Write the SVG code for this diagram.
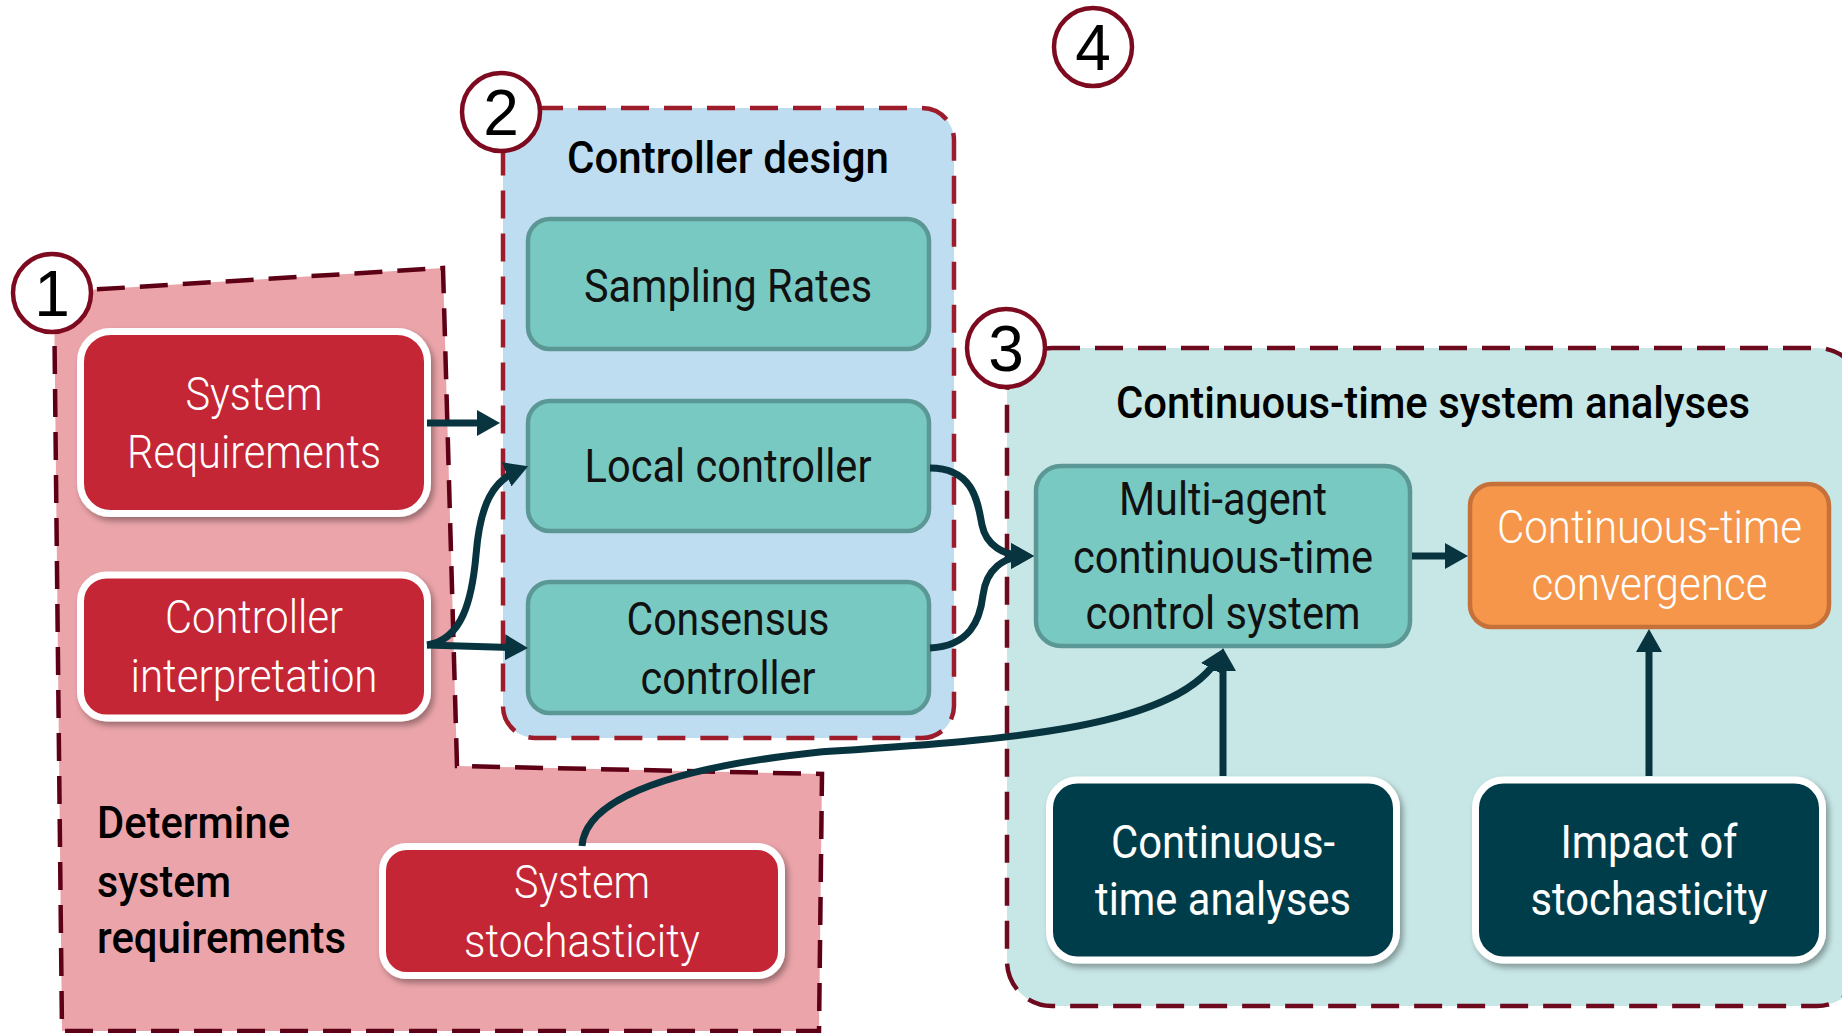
<svg xmlns="http://www.w3.org/2000/svg" width="1842" height="1033" viewBox="0 0 1842 1033">
<defs>
<style>
.txt{font-family:Roboto,"Liberation Sans",sans-serif;font-size:46px;text-anchor:middle}
.dark{fill:#111}
.white{fill:#fff}
.light{font-weight:300}
.title{font-family:Roboto,"Liberation Sans",sans-serif;font-size:45px;font-weight:500;fill:#000}
.num{font-family:"Liberation Sans",Arial,sans-serif;font-size:64px;text-anchor:middle;fill:#000}
.badge{fill:#fff;stroke:#7d0a1f;stroke-width:4.5}
.red{fill:#c52836;stroke:#fff;stroke-width:7}
.teal{fill:#79c9c3;stroke:#5b9895;stroke-width:4.5}
.orange{fill:#f6964a;stroke:#c6703a;stroke-width:4.5}
.navy{fill:#023c4c;stroke:#fff;stroke-width:7}
.conn{fill:none;stroke:#07343f;stroke-width:7}
.dash{stroke-width:4.5;stroke-dasharray:28 15}
</style>
<filter id="sh" x="-10%" y="-10%" width="125%" height="130%">
<feDropShadow dx="3" dy="4" stdDeviation="3" flood-color="#000" flood-opacity="0.35"/>
</filter>
<marker id="ah" markerUnits="userSpaceOnUse" markerWidth="24" markerHeight="26" refX="16" refY="13" orient="auto">
<path d="M0,0 L23,13 L0,26 z" fill="#07343f"/>
</marker>
</defs>
<rect width="1842" height="1033" fill="#fff"/>

<g id="regions">
<polygon id="region1" points="54,292 443,268 457,766 822,774 819,1031 62,1031" fill="#eba5aa" stroke="#5e0015" class="dash"/>
<rect id="region2" x="503" y="108" width="451" height="630" rx="32" fill="#bfddf0" stroke="#9c1c2b" class="dash"/>
<rect id="region3" x="1007" y="348" width="855" height="658" rx="45" fill="#c7e7e6" stroke="#6e0a1e" class="dash"/>
</g>

<g id="labels">
<text class="title" x="728" y="173" text-anchor="middle" textLength="322" lengthAdjust="spacingAndGlyphs">Controller design</text>
<text class="title" x="1433" y="418" text-anchor="middle" textLength="634" lengthAdjust="spacingAndGlyphs">Continuous-time system analyses</text>
<text class="title" x="97" y="838" textLength="193" lengthAdjust="spacingAndGlyphs">Determine</text>
<text class="title" x="97" y="897" textLength="134" lengthAdjust="spacingAndGlyphs">system</text>
<text class="title" x="97" y="953" textLength="249" lengthAdjust="spacingAndGlyphs">requirements</text>
</g>

<g id="badges">
<g id="badge1"><circle class="badge" cx="52" cy="293" r="39"/><text class="num" x="52" y="316">1</text></g>
<g id="badge2"><circle class="badge" cx="501" cy="112" r="39"/><text class="num" x="501" y="135">2</text></g>
<g id="badge3"><circle class="badge" cx="1006" cy="348" r="39"/><text class="num" x="1006" y="371">3</text></g>
<g id="badge4"><circle class="badge" cx="1093" cy="47" r="39"/><text class="num" x="1093" y="70">4</text></g>
</g>

<g id="node-system-requirements">
<rect class="red" x="80.5" y="331.5" width="347" height="182" rx="30" filter="url(#sh)"/>
<text class="txt white light" x="254" y="410" textLength="137" lengthAdjust="spacingAndGlyphs">System</text>
<text class="txt white light" x="254" y="468" textLength="254" lengthAdjust="spacingAndGlyphs">Requirements</text>
</g>
<g id="node-controller-interpretation">
<rect class="red" x="80.5" y="575" width="347" height="143" rx="26" filter="url(#sh)"/>
<text class="txt white light" x="254" y="633" textLength="178" lengthAdjust="spacingAndGlyphs">Controller</text>
<text class="txt white light" x="254" y="692" textLength="247" lengthAdjust="spacingAndGlyphs">interpretation</text>
</g>
<g id="node-system-stochasticity">
<rect class="red" x="382.5" y="846.5" width="399" height="129" rx="24" filter="url(#sh)"/>
<text class="txt white light" x="582" y="898" textLength="136" lengthAdjust="spacingAndGlyphs">System</text>
<text class="txt white light" x="582" y="957" textLength="236" lengthAdjust="spacingAndGlyphs">stochasticity</text>
</g>

<g id="node-sampling-rates">
<rect class="teal" x="528" y="219" width="401" height="130" rx="22"/>
<text class="txt dark" x="728" y="302" textLength="288" lengthAdjust="spacingAndGlyphs">Sampling Rates</text>
</g>
<g id="node-local-controller">
<rect class="teal" x="528" y="401" width="401" height="130" rx="22"/>
<text class="txt dark" x="728" y="482" textLength="287" lengthAdjust="spacingAndGlyphs">Local controller</text>
</g>
<g id="node-consensus-controller">
<rect class="teal" x="528" y="582" width="401" height="131" rx="22"/>
<text class="txt dark" x="728" y="635" textLength="203" lengthAdjust="spacingAndGlyphs">Consensus</text>
<text class="txt dark" x="728" y="694" textLength="175" lengthAdjust="spacingAndGlyphs">controller</text>
</g>

<g id="node-multi-agent">
<rect class="teal" x="1036" y="466" width="374" height="180" rx="25"/>
<text class="txt dark" x="1223" y="515" textLength="208" lengthAdjust="spacingAndGlyphs">Multi-agent</text>
<text class="txt dark" x="1223" y="573" textLength="300" lengthAdjust="spacingAndGlyphs">continuous-time</text>
<text class="txt dark" x="1223" y="629" textLength="275" lengthAdjust="spacingAndGlyphs">control system</text>
</g>
<g id="node-convergence">
<rect class="orange" x="1470" y="484" width="359" height="143" rx="22"/>
<text class="txt white light" x="1649.5" y="543" textLength="305" lengthAdjust="spacingAndGlyphs">Continuous-time</text>
<text class="txt white light" x="1649.5" y="600" textLength="236" lengthAdjust="spacingAndGlyphs">convergence</text>
</g>
<g id="node-ct-analyses">
<rect class="navy" x="1049.5" y="780" width="347" height="180" rx="28" filter="url(#sh)"/>
<text class="txt white" x="1223" y="858" textLength="224" lengthAdjust="spacingAndGlyphs">Continuous-</text>
<text class="txt white" x="1223" y="915" textLength="256" lengthAdjust="spacingAndGlyphs">time analyses</text>
</g>
<g id="node-impact">
<rect class="navy" x="1475.5" y="780" width="347" height="180" rx="28" filter="url(#sh)"/>
<text class="txt white" x="1649" y="858" textLength="177" lengthAdjust="spacingAndGlyphs">Impact of</text>
<text class="txt white" x="1649" y="915" textLength="237" lengthAdjust="spacingAndGlyphs">stochasticity</text>
</g>

<g id="connectors">
<path class="conn" marker-end="url(#ah)" d="M427,423 L493,423"/>
<path class="conn" marker-end="url(#ah)" d="M427,645 C462,640 472,600 476,555 C480,505 492,480 521.6,468.7"/>
<path class="conn" marker-end="url(#ah)" d="M427,645 L521,647.8"/>
<path class="conn" marker-end="url(#ah)" d="M930,468 C975,468 978,505 982,525 C986,545 1003,556 1027,556"/>
<path class="conn" marker-end="url(#ah)" d="M930,648 C970,646 980,620 983,595 C986,570 1003,556 1027,556"/>
<path class="conn" marker-end="url(#ah)" d="M582,846 C585,805 650,770 820,752 C1000,740 1180,730 1220,655"/>
<path class="conn" marker-end="url(#ah)" d="M1412,556 L1461,556"/>
<path class="conn" marker-end="url(#ah)" d="M1223,776 L1223,655"/>
<path class="conn" marker-end="url(#ah)" d="M1649,776 L1649,636"/>
</g>
</svg>
